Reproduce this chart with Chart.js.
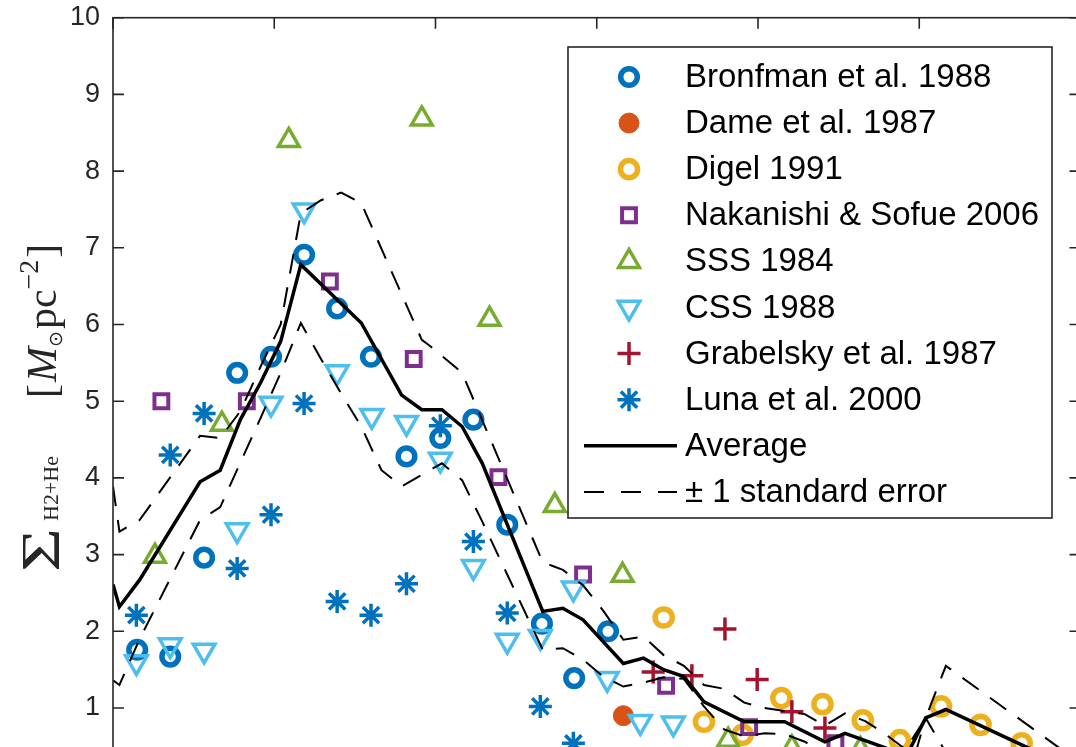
<!DOCTYPE html>
<html><head><meta charset="utf-8">
<script src="https://cdn.jsdelivr.net/npm/chart.js@4.4.1/dist/chart.umd.min.js"></script>
<style>html,body{margin:0;padding:0;overflow:hidden;background:#fff;width:1076px;height:747px}canvas{display:block}</style>
</head><body>
<canvas id="c" width="1100" height="850" style="width:1100px;height:850px"></canvas>
<script>
// ---- data (galactocentric radius R in kpc, surface density in Msun/pc^2) ----
const bronfmanR=[0.30,0.71,1.13,1.54,1.96,2.37,2.78,3.20,3.64,4.06,4.47,4.89,5.32,5.72,6.14];
const bronfmanS=[1.76,1.67,2.96,5.37,5.58,6.91,6.21,5.58,4.28,4.52,4.76,3.39,2.10,1.39,2.00];
const dameR=[6.33];
const dameS=[0.90];
const digelR=[6.83,7.33,7.81,8.29,8.80,9.30,9.76,10.27,10.76,11.27];
const digelS=[2.18,0.82,0.65,1.13,1.05,0.84,0.58,1.02,0.78,0.54];
const nakR=[0.60,1.66,2.69,3.73,4.78,5.83,6.86,7.89,8.96];
const nakS=[5.00,5.00,6.56,5.55,4.01,2.74,1.29,0.75,0.54];
const sssR=[0.52,1.35,2.18,3.83,4.67,5.48,6.32,7.63,8.42,9.27];
const sssS=[2.98,4.70,8.40,8.68,6.07,3.64,2.73,0.58,0.48,0.46];
const cssR=[0.29,0.71,1.13,1.54,1.96,2.37,2.78,3.21,3.64,4.06,4.47,4.89,5.30,5.71,6.13,6.54,6.95];
const cssS=[1.60,1.82,1.75,3.32,4.97,7.49,5.38,4.81,4.72,4.24,2.84,1.88,1.93,2.56,1.38,0.82,0.80];
const grabR=[6.70,7.18,7.59,7.99,8.42,8.83];
const grabS=[1.47,1.42,2.03,1.37,0.95,0.74];
const lunaR=[0.29,0.71,1.13,1.54,1.96,2.37,2.78,3.20,3.64,4.06,4.47,4.89,5.30,5.71];
const lunaS=[2.21,4.30,4.84,2.82,3.52,4.97,2.39,2.21,2.62,4.68,3.17,2.24,1.02,0.54];
const avgR=[0.00,0.08,0.33,1.08,1.33,1.58,1.83,2.08,2.33,3.08,3.58,3.83,4.08,4.33,4.58,5.33,5.58,5.83,6.33,6.58,6.83,7.08,7.33,7.83,8.08,8.33,8.83,9.08,9.58,9.83,10.08,10.33,11.33,12.00];
const avgS=[2.61,2.32,2.67,3.95,4.10,4.76,5.24,5.78,6.78,6.02,5.08,4.89,4.89,4.67,4.19,2.26,2.30,2.15,1.58,1.65,1.50,1.41,1.08,0.82,0.82,0.82,0.56,0.67,0.48,0.35,0.87,0.98,0.49,0.17];
const upperR=[0.00,0.08,0.33,1.08,1.33,1.58,1.83,2.08,2.33,2.58,2.83,3.08,3.83,3.92,4.33,5.33,5.58,5.83,6.08,6.33,6.58,6.83,7.08,7.33,7.58,7.83,8.08,8.33,8.58,8.83,9.08,9.33,9.58,9.83,10.08,10.33,12.00];
const upperS=[3.89,3.30,3.45,4.55,4.52,4.87,5.45,6.00,7.45,7.62,7.72,7.58,5.80,5.73,5.37,2.90,2.80,2.60,2.27,1.89,1.93,1.69,1.55,1.30,1.25,1.07,1.00,0.96,0.92,0.77,0.93,0.83,0.66,0.46,0.87,1.55,0.28];
const lowerR=[0.00,0.08,0.33,1.08,1.33,1.58,1.83,2.08,2.33,2.58,2.83,3.08,3.33,3.58,3.83,4.08,4.33,4.58,5.33,5.58,5.83,6.08,6.33,6.58,6.83,7.08,7.33,7.58,7.83,8.08,8.33,8.58,8.83,9.08,9.33,9.58,9.83,10.08,10.33,11.33,12.00];
const lowerS=[1.36,1.30,1.90,3.45,3.62,4.20,4.78,5.37,6.02,5.55,5.10,4.67,4.10,3.89,4.04,4.19,3.97,3.43,1.76,1.78,1.63,1.41,1.28,1.33,1.40,1.38,1.02,0.72,0.63,0.67,0.66,0.56,0.40,0.45,0.35,0.30,-0.03,0.87,0.42,0.20,0.00];
const xTickValues=[0,2,4,6,8,10,12];
const yTickValues=[0,1,2,3,4,5,6,7,8,9,10];
const seriesNames=['Bronfman et al. 1988','Dame et al. 1987','Digel 1991','Nakanishi & Sofue 2006','SSS 1984','CSS 1988','Grabelsky et al. 1987','Luna et al. 2000','Average','\u00B1 1 standard error'];

const zip=(a,b)=>a.map((v,i)=>({x:v,y:b[i]}));
const AX='#262626';
const styles=[
 {pointStyle:'circle',radius:8.3,borderWidth:5.5,color:'#0072BD',fill:false,rotation:0},
 {pointStyle:'circle',radius:10,borderWidth:1,color:'#D95319',fill:true,rotation:0},
 {pointStyle:'circle',radius:8.6,borderWidth:5.5,color:'#EDB120',fill:false,rotation:0},
 {pointStyle:'rect',radius:9.8,borderWidth:4,color:'#7E2F8E',fill:false,rotation:0},
 {pointStyle:'triangle',radius:12,borderWidth:3.5,color:'#77AC30',fill:false,rotation:0},
 {pointStyle:'triangle',radius:12.5,borderWidth:3.5,color:'#4DBEEE',fill:false,rotation:180},
 {pointStyle:'cross',radius:11.5,borderWidth:3.5,color:'#A2142F',fill:false,rotation:0},
 {pointStyle:'star',radius:11.5,borderWidth:3.5,color:'#0072BD',fill:false,rotation:0}
];
const markerData=[zip(bronfmanR,bronfmanS),zip(dameR,dameS),zip(digelR,digelS),zip(nakR,nakS),zip(sssR,sssS),zip(cssR,cssS),zip(grabR,grabS),zip(lunaR,lunaS)];
const datasets=markerData.map((d,i)=>({
  label:seriesNames[i],data:d,showLine:false,order:30-i,
  pointStyle:styles[i].pointStyle,pointRadius:styles[i].radius,pointHoverRadius:styles[i].radius,
  pointBorderWidth:styles[i].borderWidth,pointRotation:styles[i].rotation,
  pointBorderColor:styles[i].color,pointBackgroundColor:styles[i].fill?styles[i].color:'rgba(0,0,0,0)'
}));
const DASH=[20,14];
datasets.push({label:seriesNames[8],data:zip(avgR,avgS),showLine:true,pointRadius:0,borderColor:'#000',borderWidth:3.5,order:10,tension:0});
datasets.push({label:seriesNames[9],data:zip(upperR,upperS),showLine:true,pointRadius:0,borderColor:'#000',borderWidth:2,borderDash:DASH,order:9,tension:0});
datasets.push({label:'lower',data:zip(lowerR,lowerS),showLine:true,pointRadius:0,borderColor:'#000',borderWidth:2,borderDash:DASH,order:8,tension:0});

const frame={id:'frame',afterDatasetsDraw(chart){
  const {ctx,chartArea:a,scales:{x,y}}=chart;const L=11;
  ctx.save();ctx.strokeStyle=AX;ctx.lineWidth=1.6;
  ctx.strokeRect(a.left,a.top,a.right-a.left,a.bottom-a.top);
  ctx.beginPath();
  x.ticks.forEach(t=>{const p=x.getPixelForValue(t.value);ctx.moveTo(p,a.top);ctx.lineTo(p,a.top+L);ctx.moveTo(p,a.bottom);ctx.lineTo(p,a.bottom-L);});
  y.ticks.forEach(t=>{const p=y.getPixelForValue(t.value);ctx.moveTo(a.left,p);ctx.lineTo(a.left+L,p);ctx.moveTo(a.right,p);ctx.lineTo(a.right-L,p);});
  ctx.stroke();ctx.restore();
}};

function marker(ctx,s,x,y){
  ctx.save();ctx.strokeStyle=s.color;ctx.fillStyle=s.fill?s.color:'rgba(0,0,0,0)';ctx.lineWidth=s.borderWidth;
  Chart.helpers.drawPoint(ctx,{pointStyle:s.pointStyle,radius:s.radius,rotation:s.rotation,borderWidth:s.borderWidth},x,y);
  ctx.restore();
}
const legendBox={id:'legendBox',afterDraw(chart){
  const ctx=chart.ctx;ctx.save();
  const L=568,T=47,R=1052,B=518;
  ctx.fillStyle='#fff';ctx.fillRect(L,T,R-L,B-T);
  ctx.strokeStyle=AX;ctx.lineWidth=1.6;ctx.strokeRect(L,T,R-L,B-T);
  const rowY=i=>77+46.1*i;
  ctx.font="33px 'Liberation Sans', Arial, sans-serif";ctx.textBaseline='middle';ctx.textAlign='left';
  seriesNames.forEach((n,i)=>{ctx.fillStyle='#000';ctx.fillText(n,685,rowY(i)+1);});
  styles.forEach((s,i)=>marker(ctx,s,629,rowY(i)));
  ctx.strokeStyle='#000';ctx.lineWidth=3.5;ctx.beginPath();ctx.moveTo(584,rowY(8));ctx.lineTo(677,rowY(8));ctx.stroke();
  ctx.lineWidth=2;ctx.setLineDash([20,17]);ctx.beginPath();ctx.moveTo(584,rowY(9));ctx.lineTo(677,rowY(9));ctx.stroke();
  ctx.restore();
}};
const yTitle={id:'yTitle',afterDraw(chart){
  const ctx=chart.ctx;ctx.save();
  ctx.translate(56,572);ctx.rotate(-Math.PI/2);
  ctx.fillStyle=AX;ctx.textBaseline='alphabetic';ctx.textAlign='left';
  const serif="'Liberation Serif','Times New Roman',serif";
  ctx.save();ctx.scale(1.4,1);ctx.font='54px '+serif;ctx.fillText('\u03A3',0,3);ctx.restore();
  ctx.font='22px '+serif;ctx.fillText('H2+He',51,2);
  let x=174;
  ctx.font='42px '+serif;ctx.fillText('[',x,0);x+=ctx.measureText('[').width+2;
  ctx.font='italic 42px '+serif;ctx.fillText('M',x,0);x+=ctx.measureText('M').width;
  ctx.font="19px 'DejaVu Sans'";ctx.fillText('\u2299',x,6);x+=ctx.measureText('\u2299').width+2;
  ctx.font='42px '+serif;ctx.fillText('pc',x,0);x+=ctx.measureText('pc').width;
  ctx.font='28px '+serif;ctx.fillText('\u22122',x,-18);x+=ctx.measureText('\u22122').width+2;
  ctx.font='42px '+serif;ctx.fillText(']',x,0);
  ctx.restore();
}};

Chart.defaults.font.family="'Liberation Sans', Arial, sans-serif";
Chart.defaults.color=AX;
new Chart(document.getElementById('c'),{
  type:'scatter',
  data:{datasets},
  options:{
    responsive:false,animation:false,devicePixelRatio:1,
    layout:{padding:{left:0,top:17.7,right:19.5,bottom:25.3}},
    plugins:{legend:{display:false},tooltip:{enabled:false}},
    events:[],
    scales:{
      x:{type:'linear',min:0,max:12,afterBuildTicks:s=>{s.ticks=xTickValues.map(v=>({value:v}));},
         grid:{display:false,drawTicks:false},border:{display:false},
         ticks:{font:{size:27},color:AX,padding:10},
         afterFit:s=>{s.height=40;s.paddingLeft=0;s.paddingRight=0;}},
      y:{type:'linear',min:0,max:10,afterBuildTicks:s=>{s.ticks=yTickValues.map(v=>({value:v}));},
         grid:{display:false,drawTicks:false},border:{display:false},
         ticks:{font:{size:27},color:AX,padding:13},
         afterFit:s=>{s.width=113;s.paddingTop=0;s.paddingBottom=0;}}
    }
  },
  plugins:[frame,legendBox,yTitle]
});
</script>
</body></html>
